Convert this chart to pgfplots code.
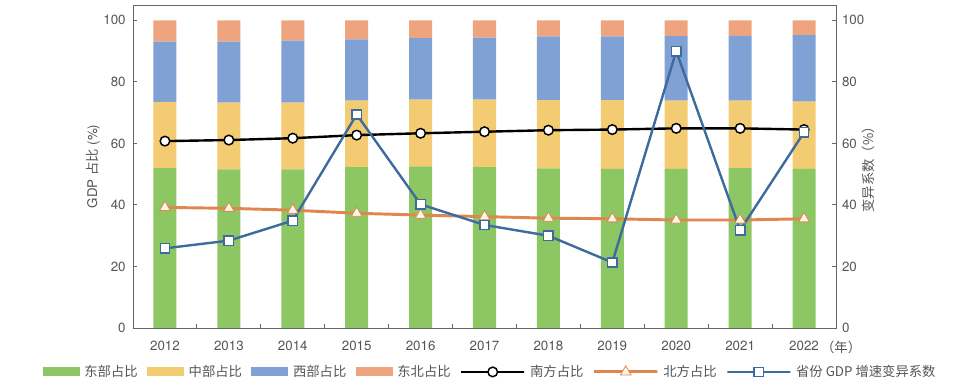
\documentclass[border=0pt]{standalone}
\usepackage{pgfplots}
\usepackage{pgfplotstable}
\pgfplotsset{compat=1.18}
\usepackage{fontspec}
\setmainfont{TeX Gyre Heros}
\newfontfamily\cjk{Noto Sans CJK SC}
\definecolor{cE}{HTML}{8CC764}
\definecolor{cC}{HTML}{F3CB72}
\definecolor{cW}{HTML}{7FA1D4}
\definecolor{cNE}{HTML}{EEA47F}
\definecolor{cline}{HTML}{3E6B9E}
\definecolor{corg}{HTML}{E0874F}
\definecolor{ctri}{HTML}{FFF8EC}
\definecolor{tg}{HTML}{555555}
\definecolor{ag}{HTML}{666666}

\pgfplotstableread{
x east central west ne south north cv
0  52.0 21.5 19.6 6.9 60.75 39.2 25.9
1  51.6 21.7 19.8 6.9 61.1  38.9 28.4
2  51.6 21.7 20.1 6.6 61.7  38.3 34.9
3  52.3 21.6 19.9 6.2 62.7  37.3 69.4
4  52.5 21.7 20.0 5.8 63.3  36.7 40.2
5  52.3 21.9 20.2 5.6 63.8  36.2 33.5
6  51.9 22.2 20.7 5.2 64.3  35.7 30.0
7  51.7 22.4 20.7 5.2 64.5  35.5 21.3
8  51.7 22.2 21.0 5.1 64.9  35.1 90.0
9  52.0 21.9 21.1 5.0 64.9  35.1 31.8
10 51.7 21.9 21.6 4.8 64.5  35.5 63.6
}\data

\pgfplotsset{
  common/.style={
    scale only axis, width=527.25pt, height=242.25pt,
    at={(0,0)}, anchor=south west,
    xmin=-0.5, xmax=10.5, ymin=0, ymax=105,
    ytick={0,20,...,100},
    tick align=inside, major tick length=3pt,
    tick label style={font=\fontsize{10}{12}\selectfont, text=tg},
    /pgf/number format/assume math mode=true,
    axis line style={draw=ag, line width=0.7pt},
    every tick/.style={draw=ag, line width=0.7pt},
    clip=false,
  },
  barlegend/.style={legend image code/.code={\fill[##1] (0pt,-3.4pt) rectangle (27.75pt,3.4pt);}},
  linelegend/.style={legend image code/.code={\draw[mark repeat=2,mark phase=2,##1] plot coordinates {(0pt,0pt) (15pt,0pt) (30pt,0pt)};}},
}

\begin{document}
\begin{tikzpicture}
\useasboundingbox (-99.75pt,-47.25pt) rectangle (626.25pt,246pt);
\begin{axis}[common,
  ybar stacked, bar width=0.36,
  ytick pos=left,
  xtick={0,...,10},
  xticklabels={2012,2013,2014,2015,2016,2017,2018,2019,2020,2021,2022},
  major x tick style={draw=none},
  minor xtick={0.5,1.5,...,9.5},
  minor tick length=3pt,
  xtick pos=bottom,
  xticklabel style={yshift=-6pt},
  yticklabel style={xshift=-2pt},
  ylabel={GDP {\cjk 占比} (\%)},
  every axis y label/.style={at={(axis description cs:-0.057,0.5)}, rotate=90, anchor=center, font=\fontsize{10}{12}\selectfont, text=tg},
  legend columns=7,
  legend style={at={(0.5085,-0.136)}, anchor=center, draw=none, fill=none,
    font=\fontsize{10}{12}\selectfont\cjk, text=tg,
    /tikz/every even column/.append style={column sep=5pt},
    /tikz/every odd column/.append style={column sep=1.5pt}},
]
\addplot[fill=cE, draw=none, barlegend] table[x=x,y=east] {\data};
\addlegendentry{东部占比}
\addplot[fill=cC, draw=none, barlegend] table[x=x,y=central] {\data};
\addlegendentry{中部占比}
\addplot[fill=cW, draw=none, barlegend] table[x=x,y=west] {\data};
\addlegendentry{西部占比}
\addplot[fill=cNE, draw=none, barlegend] table[x=x,y=ne] {\data};
\addlegendentry{东北占比}
\addlegendimage{linelegend, black, line width=1.8pt, mark=*, mark size=3.6pt, mark options={fill=white, draw=black, line width=1.1pt}}
\addlegendentry{南方占比}
\addlegendimage{linelegend, corg, line width=2.2pt, mark=triangle*, mark size=4.6pt, mark options={fill=ctri, draw=corg, line width=0.6pt}}
\addlegendentry{北方占比}
\addlegendimage{linelegend, cline, line width=1.8pt, mark=square*, mark size=3.5pt, mark options={fill=white, draw=cline, line width=1.1pt}}
\addlegendentry{省份 GDP 增速变异系数}
\node[anchor=center, font=\fontsize{10}{12}\selectfont\cjk, text=tg] at ([yshift=-14.25pt]axis cs:10.58,0) {（年）};
\end{axis}
\begin{axis}[common,
  axis x line=none,
  axis y line*=right,
  yticklabel style={xshift=1pt},
  ylabel={变异系数（\%）},
  every axis y label/.style={at={(axis description cs:1.0455,0.5)}, rotate=90, anchor=center, font=\fontsize{10}{12}\selectfont\cjk, text=tg},
]
\addplot[black, line width=1.8pt, mark=*, mark size=3.6pt, mark options={fill=white, draw=black, line width=1.1pt}] table[x=x,y=south] {\data};
\addplot[corg, line width=2.2pt, mark=triangle*, mark size=4.6pt, mark options={fill=ctri, draw=corg, line width=0.6pt}] table[x=x,y=north] {\data};
\addplot[cline, line width=1.8pt, mark=square*, mark size=3.5pt, mark options={fill=white, draw=cline, line width=1.1pt}] table[x=x,y=cv] {\data};
\end{axis}
\end{tikzpicture}
\end{document}
